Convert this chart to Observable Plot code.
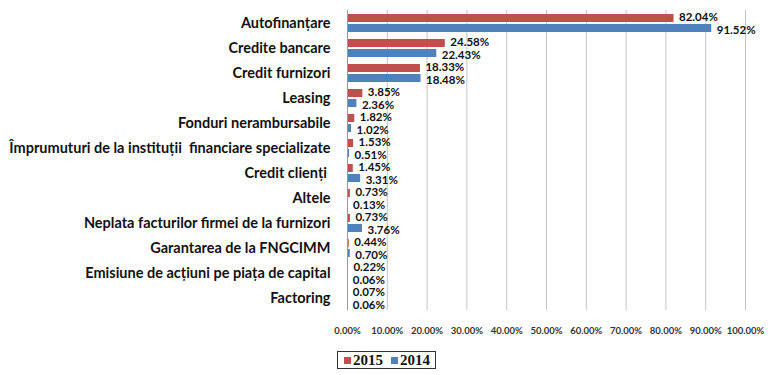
<!DOCTYPE html>
<html><head><meta charset="utf-8">
<script src="https://cdn.jsdelivr.net/npm/d3@7"></script>
<script src="https://cdn.jsdelivr.net/npm/@observablehq/plot@0.6"></script>
<style>
body{margin:0;background:#fff;}
#wrap{position:relative;width:768px;height:375px;background:#fff;overflow:hidden;}
#chart svg{display:block;}
g[aria-label="x-axis tick label"]{font-size:9.5px;font-weight:bold;fill:#333;}
g[aria-label="fy-axis tick label"]{font-size:14.5px;font-weight:bold;fill:#111;white-space:pre;}
g[aria-label="fy-axis tick label"] text{white-space:pre;}
#legend{position:absolute;left:337px;top:351px;height:16px;padding:0 5px 0 6px;border:1px solid #333;
 display:flex;align-items:center;font-family:"Liberation Serif",serif;font-weight:bold;font-size:15px;color:#111;background:#fff;}
#legend span.sw{display:inline-block;width:7px;height:7px;margin-right:2px;}
#legend span.it{margin-right:8px;display:flex;align-items:center;}
#legend span.it:last-child{margin-right:0;}
</style></head><body>
<div id="wrap"><div id="chart"></div><div id="legend"></div></div>
<script>
const categories = [
  "Autofinanțare",
  "Credite bancare",
  "Credit furnizori",
  "Leasing",
  "Fonduri nerambursabile",
  "Împrumuturi de la instituții  financiare specializate",
  "Credit clienți ",
  "Altele",
  "Neplata facturilor firmei de la furnizori",
  "Garantarea de la FNGCIMM",
  "Emisiune de acțiuni pe piața de capital",
  "Factoring"
];
const years = ["2015", "2014"];
const values2015 = [82.04, 24.58, 18.33, 3.85, 1.82, 1.53, 1.45, 0.73, 0.73, 0.44, 0.22, 0.07];
const values2014 = [91.52, 22.43, 18.48, 2.36, 1.02, 0.51, 3.31, 0.13, 3.76, 0.70, 0.06, 0.06];
const colors = ["#C0504D", "#4F81BD"];
const xTicks = [0, 10, 20, 30, 40, 50, 60, 70, 80, 90, 100];

const data = categories.flatMap((c, i) => [
  {category: c, year: years[0], value: values2015[i]},
  {category: c, year: years[1], value: values2014[i]}
]);
const fmt = d => d.value.toFixed(2) + "%";
const labelOpts = {fy: "category", y: "year", x: "value", text: fmt,
  textAnchor: "start", dx: 5, fontWeight: "bold", fontSize: 11.5, fill: "#111"};

const chart = Plot.plot({
  width: 768, height: 340,
  marginLeft: 347, marginRight: 23, marginTop: 8, marginBottom: 28,
  style: {fontFamily: "Lato", background: "white", color: "#111"},
  x: {domain: [0, 100], ticks: 10, tickFormat: d => d.toFixed(2) + "%", tickSize: 0, tickPadding: 17, label: null},
  fy: {domain: categories, padding: 0, label: null, tickSize: 0, tickPadding: 17},
  y: {domain: years, paddingInner: 0.23, paddingOuter: 0.265, axis: null},
  color: {domain: years, range: colors},
  marks: [
    Plot.gridX(xTicks.slice(1), {stroke: "#c4c4c4", strokeOpacity: 1}),
    Plot.barX(data, {fy: "category", y: "year", x: "value", fill: "year"}),
    Plot.ruleX([0], {stroke: "#999", strokeWidth: 1}),
    Plot.text(data.filter(d => d.year === years[0]), {...labelOpts, dy: -1.5}),
    Plot.text(data.filter(d => d.year === years[1]), {...labelOpts, dy: 1.5})
  ]
});
document.getElementById("chart").appendChild(chart);

const legend = document.getElementById("legend");
years.forEach((y, i) => {
  const it = document.createElement("span");
  it.className = "it";
  const sw = document.createElement("span");
  sw.className = "sw";
  sw.style.background = colors[i];
  it.appendChild(sw);
  it.appendChild(document.createTextNode(y));
  legend.appendChild(it);
});
</script>
</body></html>
